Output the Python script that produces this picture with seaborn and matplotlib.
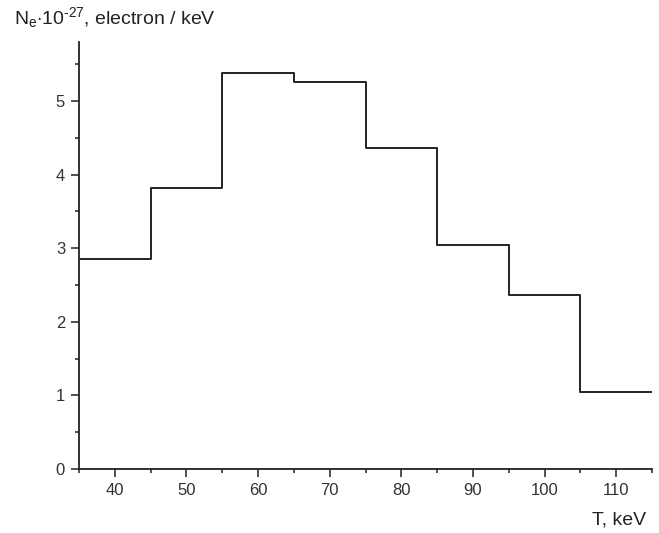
import matplotlib
matplotlib.use("Agg")
import matplotlib.pyplot as plt
import seaborn as sns
import pandas as pd
from matplotlib.ticker import MultipleLocator

bin_edges = [35, 45, 55, 65, 75, 85, 95, 105, 115]
counts = [2.85, 3.82, 5.38, 5.25, 4.36, 3.04, 2.37, 1.05]
x_ticks = [40, 50, 60, 70, 80, 90, 100, 110]
y_ticks = [0, 1, 2, 3, 4, 5]

sns.set_style("ticks")
plt.rcParams['font.family'] = ['Liberation Sans', 'DejaVu Sans']
plt.rcParams['mathtext.fontset'] = 'custom'
plt.rcParams['mathtext.rm'] = 'Liberation Sans'
plt.rcParams['mathtext.it'] = 'Liberation Sans'

df = pd.DataFrame({"T": bin_edges, "N": counts + [counts[-1]]})

fig = plt.figure(figsize=(6.59, 5.33), dpi=100)
ax = fig.add_axes([79/659, 1 - 469/533, (652 - 79)/659, (469 - 42)/533])
sns.lineplot(data=df, x="T", y="N", drawstyle="steps-post", color="#222222",
             linewidth=1.4, ax=ax)

ax.set_xlim(35, 115)
ax.set_ylim(0, 5.8)
ax.set_xticks(x_ticks)
ax.set_yticks(y_ticks)
ax.xaxis.set_minor_locator(MultipleLocator(5))
ax.yaxis.set_minor_locator(MultipleLocator(0.5))
ax.tick_params(which="major", direction="out", length=6, width=1.2, labelsize=12,
               labelcolor="#333333", color="#333333", pad=4)
ax.tick_params(which="minor", direction="out", length=3, width=1.2, color="#333333")
for s in ["top", "right"]:
    ax.spines[s].set_visible(False)
for s in ["left", "bottom"]:
    ax.spines[s].set_linewidth(1.3)
    ax.spines[s].set_color("#222222")
ax.set_xlabel("")
ax.set_ylabel("")

fig.text(14/659, 1 - 18/533,
         r"N$_\mathregular{e}$$\cdot$10$^{\text{-27}}$, electron / keV",
         fontsize=14, color="#222222", va="center", ha="left")
fig.text(646/659, 1 - 520/533, "T, keV", fontsize=14, color="#222222",
         va="center", ha="right")

fig.savefig("out.png", dpi=100)
